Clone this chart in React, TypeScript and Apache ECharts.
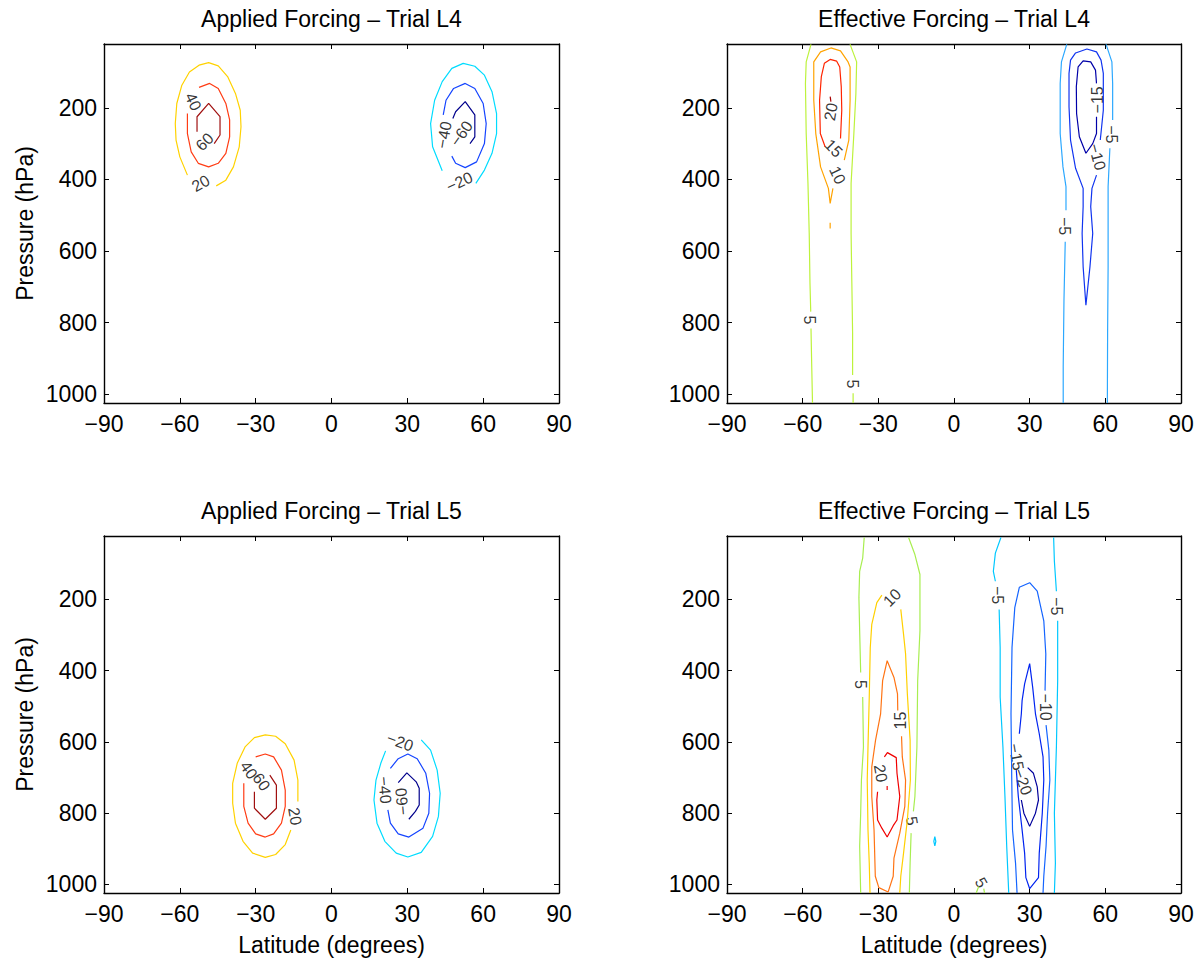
import React, { useEffect, useRef } from "react";
import * as echarts from "echarts";

type Pt = [number, number];
type Lab = [number, number, string, number];

// ---------- tick labels ----------
const latTicks = [-90, -60, -30, 0, 30, 60, 90];
const pTicks = [200, 400, 600, 800, 1000];
const pMin = 22;
const pMax = 1024;

const titles = [
  "Applied Forcing – Trial L4",
  "Effective Forcing – Trial L4",
  "Applied Forcing – Trial L5",
  "Effective Forcing – Trial L5",
];

// ---------- Panel 1: Applied Forcing L4 (lat, hPa) ----------
const tlP20: Pt[] = [[-57.0,388],[-60.0,337],[-61.5,290],[-61.8,244],[-61.2,188],[-59.2,137],[-56.2,100],[-52.4,81],[-48.6,74],[-44.8,83],[-41.1,113],[-38.0,160],[-36.1,207],[-35.8,253],[-36.5,309],[-38.8,365],[-41.8,402],[-45.6,418]];
const tlP40: Pt[] = [[-52.4,143],[-48.2,132],[-44.8,146],[-41.8,188],[-40.3,234],[-40.3,281],[-41.8,327],[-44.8,355],[-48.6,365],[-52.7,355],[-55.5,323],[-57.0,272],[-57.0,216]];
const tlP60: Pt[] = [[-53.2,267],[-53.2,225],[-48.6,188],[-44.1,225],[-44.1,276],[-46.4,300]];
const tlN20: Pt[] = [[43.8,376],[40.0,309],[39.2,244],[40.8,179],[43.8,127],[47.6,90],[52.1,76],[56.7,84],[60.5,109],[63.5,155],[65.3,216],[65.3,272],[63.5,327],[60.5,374],[57.1,411]];
const tlN40: Pt[] = [[44.2,220],[45.3,179],[48.3,146],[52.9,132],[56.7,146],[60.0,188],[61.2,244],[60.5,300],[57.4,351],[52.9,367],[49.1,355],[47.6,335]];
const tlN60: Pt[] = [[48.0,230],[49.1,211],[52.9,183],[56.7,220],[56.7,281],[54.8,300]];
const tlLabels: Lab[] = [[-54.7,183,"40",-65],[-50.2,295,"60",45],[-51.7,411,"20",30],[44.5,276,"−40",80],[51.4,272,"−60",55],[50.6,407,"−20",25]];

// ---------- Panel 2: Effective Forcing L4 ----------
const trP5a: Pt[] = [[-56.7,23],[-58.6,72],[-58.9,132],[-58.6,272],[-57.9,411],[-57.4,551],[-57.1,690],[-56.8,769]];
const trP5b: Pt[] = [[-56.7,816],[-56.4,923],[-56.1,1024]];
const trP5c: Pt[] = [[-41.2,23],[-38.6,72],[-38.9,160],[-39.7,272],[-40.8,411],[-40.8,551],[-40.5,690],[-40.2,830],[-40.2,946]];
const trP5d: Pt[] = [[-40.0,997],[-40.0,1024]];
const trP10: Pt[] = [[-43.5,346],[-41.7,290],[-41.2,179],[-41.2,86],[-42.0,72],[-45.0,41],[-48.8,33],[-52.9,44],[-55.6,72],[-55.6,179],[-54.8,272],[-52.9,365],[-49.8,425],[-49.1,467],[-48.0,425]];
const trP10b: Pt[] = [[-49.1,521],[-49.1,537]];
const trP15: Pt[] = [[-51.1,309],[-53.0,272],[-53.3,179],[-52.6,113],[-51.4,76],[-49.1,65],[-46.5,70],[-45.3,86],[-44.7,141],[-44.5,207],[-45.0,286]];
const trP20: Pt[] = [[-49.1,169],[-48.8,183]];
const trN5a: Pt[] = [[44.7,23],[42.6,72],[42.1,132],[42.1,272],[43.2,365],[44.4,420],[44.4,486]];
const trN5b: Pt[] = [[44.1,574],[43.6,737],[43.3,923],[43.3,1024]];
const trN5c: Pt[] = [[60.3,23],[62.6,72],[62.9,132],[62.9,234]];
const trN5d: Pt[] = [[61.8,313],[61.1,420],[61.1,644],[60.9,830],[60.8,1024]];
const trN10: Pt[] = [[56.5,388],[54.7,425],[54.2,476],[55.0,551],[53.9,644],[52.3,751],[51.2,644],[50.8,551],[51.2,476],[51.2,425],[48.2,369],[46.2,290],[45.6,197],[45.6,104],[46.2,67],[48.2,47],[52.7,36],[56.5,44],[58.3,67],[59.2,104],[59.2,207],[58.0,290]];
const trN15: Pt[] = [[56.5,132],[56.1,95],[54.2,72],[51.2,69],[49.2,86],[48.5,141],[48.6,216],[49.7,281],[52.3,327],[55.0,300],[56.5,272],[56.5,225]];
const trLabels: Lab[] = [[-48.8,211,"20",80],[-47.7,313,"15",-45],[-46.2,388,"10",-65],[-57.4,792,"5",-90],[-40.3,971,"5",-90],[56.8,178,"−15",90],[62.6,274,"−5",-90],[56.8,337,"−10",-75],[43.8,530,"−5",-90]];

// ---------- Panel 3: Applied Forcing L5 ----------
const blP20: Pt[] = [[-13.3,767],[-13.3,707],[-14.8,651],[-18.3,605],[-22.1,584],[-26.2,580],[-30.5,588],[-34.2,614],[-37.3,660],[-39.1,716],[-39.1,772],[-38.0,828],[-35.0,879],[-31.2,912],[-26.2,924],[-22.1,916],[-18.3,888],[-16.1,847]];
const blP40: Pt[] = [[-30.0,642],[-26.2,634],[-22.9,642],[-19.8,679],[-18.3,735],[-18.3,781],[-19.8,828],[-22.9,858],[-26.2,867],[-30.0,858],[-33.0,828],[-34.7,781],[-34.7,716]];
const blP60: Pt[] = [[-24.4,693],[-21.8,721],[-21.8,786],[-26.2,817],[-30.5,786],[-30.5,740]];
const blN20: Pt[] = [[35.5,594],[39.2,623],[41.8,679],[43.0,744],[42.3,809],[40.0,865],[35.5,910],[30.2,923],[25.6,912],[21.1,879],[18.0,828],[16.8,763],[17.6,707],[19.5,660],[21.4,625]];
const blN40: Pt[] = [[23.3,674],[26.4,647],[30.2,634],[33.9,647],[37.3,688],[38.8,744],[38.5,800],[36.2,842],[30.6,867],[26.4,858],[23.3,828],[22.3,791]];
const blN60: Pt[] = [[26.4,714],[29.8,687],[33.5,712],[34.7,730],[34.7,777],[33.2,795],[30.6,817]];
const blLabels: Lab[] = [[-32.7,679,"40",-55],[-27.7,712,"60",-55],[-14.5,809,"20",-80],[27.1,600,"−20",-20],[21.1,735,"−40",-85],[27.9,767,"−60",95]];

// ---------- Panel 4: Effective Forcing L5 ----------
const brP5a: Pt[] = [[-35.6,26],[-36.2,84],[-37.4,121],[-37.7,195],[-37.4,288],[-37.0,405]];
const brP5b: Pt[] = [[-36.2,474],[-35.9,614],[-36.7,707],[-37.0,800],[-37.4,893],[-37.0,1024]];
const brP5c: Pt[] = [[-18.0,26],[-15.5,74],[-13.5,130],[-13.5,288],[-14.4,428],[-14.7,614],[-15.5,753],[-16.1,795]];
const brP5d: Pt[] = [[-17.0,856],[-17.4,940],[-17.7,1024]];
const brP5e: Pt[] = [[8.8,1024],[9.8,1006]];
const brP5f: Pt[] = [[11.8,1012],[12.1,1024]];
const brP10a: Pt[] = [[-21.1,228],[-20.0,298],[-19.2,353],[-18.5,465],[-17.4,595],[-17.3,707],[-18.5,819],[-20.0,912],[-21.1,977],[-21.5,1024]];
const brP10b: Pt[] = [[-28.6,188],[-30.6,209],[-32.6,270],[-33.2,335],[-33.6,474],[-34.1,614],[-34.4,707],[-34.1,847],[-33.6,940],[-33.3,1024]];
const brP15: Pt[] = [[-22.3,512],[-22.4,465],[-23.8,419],[-26.5,372],[-28.3,428],[-29.1,521],[-31.1,595],[-32.6,670],[-32.6,753],[-31.7,847],[-31.2,977],[-29.8,1009],[-26.1,1021],[-24.1,977],[-23.8,926],[-21.5,856],[-19.5,781],[-19.2,707],[-20.5,642],[-20.8,584]];
const brP20: Pt[] = [[-27.6,642],[-26.4,630],[-22.9,644],[-22.6,688],[-21.5,753],[-22.6,819],[-24.1,835],[-26.5,867],[-28.6,842],[-30.3,819],[-30.6,763],[-30.3,740]];
const brP20b: Pt[] = [[-26.5,724],[-26.5,735]];
const brN5a: Pt[] = [[18.6,26],[16.4,70],[15.6,121],[16.4,149]];
const brN5b: Pt[] = [[17.9,228],[18.3,335],[18.3,474],[19.4,614],[20.2,753],[20.9,893],[21.7,1024]];
const brN5c: Pt[] = [[39.5,26],[39.8,93],[40.6,177]];
const brN5d: Pt[] = [[41.1,260],[41.1,428],[40.6,614],[39.8,800],[40.2,940],[39.8,1024]];
const brN5e: Pt[] = [[-7.6,866],[-7.2,879],[-7.6,892],[-8.0,879],[-7.6,866]];
const brN10a: Pt[] = [[36.5,553],[37.6,623],[38.0,707],[37.1,800],[36.5,893],[35.6,977],[35.3,1024]];
const brN10b: Pt[] = [[25.0,1024],[24.4,940],[23.2,847],[22.9,707],[22.6,521],[23.0,335],[24.1,223],[25.9,166],[30.0,153],[33.0,177],[35.6,260],[36.4,353],[36.1,456]];
const brN15: Pt[] = [[24.7,679],[25.5,753],[27.0,847],[28.0,912],[28.5,981],[30.0,1012],[33.5,981],[33.8,912],[35.0,800],[35.6,707],[35.3,642],[33.8,577],[32.3,521],[31.2,447],[30.0,380],[28.0,437],[27.0,484],[26.7,521],[25.9,577]];
const brN20: Pt[] = [[26.7,763],[27.7,800],[30.0,837],[32.3,800],[33.5,763],[33.0,726],[31.5,688],[29.2,672]];
const brLabels: Lab[] = [[-24.5,195,"10",45],[-37.0,439,"5",-90],[-21.1,540,"15",90],[-16.7,822,"5",-80],[-29.1,688,"20",-80],[17.4,188,"−5",-90],[40.6,219,"−5",-90],[36.1,502,"−10",-90],[24.7,642,"−15",-80],[27.3,712,"−20",-70],[10.8,995,"5",-60]];

// ---------- colours per contour level (styling) ----------
const appliedColors: Record<number, string> = { 20: "#FFD200", 40: "#FF3C14", 60: "#A01010", [-20]: "#00DCFF", [-40]: "#1444FF", [-60]: "#00008C" };
const effL4Colors: Record<number, string> = { 5: "#BDF23C", 10: "#FFA300", 15: "#FF2400", 20: "#A80000", [-5]: "#2CA8FF", [-10]: "#1034F0", [-15]: "#0000A8" };
const effL5Colors: Record<number, string> = { 5: "#A8EE50", 10: "#FFD000", 15: "#FF7414", 20: "#F00000", [-5]: "#00C8FF", [-10]: "#1464FF", [-15]: "#0024F0", [-20]: "#00009C" };

const segments: { panel: number; level: number; pts: Pt[] }[] = [
  { panel: 0, level: 20, pts: tlP20 }, { panel: 0, level: 40, pts: tlP40 }, { panel: 0, level: 60, pts: tlP60 },
  { panel: 0, level: -20, pts: tlN20 }, { panel: 0, level: -40, pts: tlN40 }, { panel: 0, level: -60, pts: tlN60 },
  { panel: 1, level: 5, pts: trP5a }, { panel: 1, level: 5, pts: trP5b }, { panel: 1, level: 5, pts: trP5c }, { panel: 1, level: 5, pts: trP5d },
  { panel: 1, level: 10, pts: trP10 }, { panel: 1, level: 10, pts: trP10b }, { panel: 1, level: 15, pts: trP15 }, { panel: 1, level: 20, pts: trP20 },
  { panel: 1, level: -5, pts: trN5a }, { panel: 1, level: -5, pts: trN5b }, { panel: 1, level: -5, pts: trN5c }, { panel: 1, level: -5, pts: trN5d },
  { panel: 1, level: -10, pts: trN10 }, { panel: 1, level: -15, pts: trN15 },
  { panel: 2, level: 20, pts: blP20 }, { panel: 2, level: 40, pts: blP40 }, { panel: 2, level: 60, pts: blP60 },
  { panel: 2, level: -20, pts: blN20 }, { panel: 2, level: -40, pts: blN40 }, { panel: 2, level: -60, pts: blN60 },
  { panel: 3, level: 5, pts: brP5a }, { panel: 3, level: 5, pts: brP5b }, { panel: 3, level: 5, pts: brP5c }, { panel: 3, level: 5, pts: brP5d },
  { panel: 3, level: 5, pts: brP5e }, { panel: 3, level: 5, pts: brP5f },
  { panel: 3, level: 10, pts: brP10a }, { panel: 3, level: 10, pts: brP10b }, { panel: 3, level: 15, pts: brP15 },
  { panel: 3, level: 20, pts: brP20 }, { panel: 3, level: 20, pts: brP20b },
  { panel: 3, level: -5, pts: brN5a }, { panel: 3, level: -5, pts: brN5b }, { panel: 3, level: -5, pts: brN5c }, { panel: 3, level: -5, pts: brN5d },
  { panel: 3, level: -5, pts: brN5e }, { panel: 3, level: -10, pts: brN10a }, { panel: 3, level: -10, pts: brN10b },
  { panel: 3, level: -15, pts: brN15 }, { panel: 3, level: -20, pts: brN20 },
];
const panelColors = [appliedColors, effL4Colors, appliedColors, effL5Colors];
const panelLabels = [tlLabels, trLabels, blLabels, brLabels];

const FONT = "'Liberation Sans', Arial, Helvetica, sans-serif";
const grids = [
  { left: 104, top: 44, width: 455, height: 359 },
  { left: 727, top: 44, width: 454, height: 359 },
  { left: 104, top: 536, width: 455, height: 357 },
  { left: 727, top: 536, width: 454, height: 357 },
];

const fmt = (v: number) => (v < 0 ? "\u2212" + Math.abs(v) : String(v));

export default function App() {
  const ref = useRef<HTMLDivElement>(null);
  useEffect(() => {
    if (!ref.current) return;
    const chart = echarts.init(ref.current, undefined, { renderer: "svg" });
    const axisLine = { show: true, onZero: false, lineStyle: { color: "#000", width: 1.4 } };
    const tick = { show: true, inside: true, length: 5, lineStyle: { color: "#000", width: 1 } };
    const xAxis: any[] = [];
    const yAxis: any[] = [];
    grids.forEach((_, i) => {
      xAxis.push({
        type: "value", gridIndex: i, min: -90, max: 90, interval: 30, position: "bottom",
        axisLine, axisTick: tick, splitLine: { show: false },
        axisLabel: { show: true, margin: 9, color: "#000", fontSize: 23, fontFamily: FONT, formatter: fmt, customValues: latTicks },
      });
      xAxis.push({
        type: "value", gridIndex: i, min: -90, max: 90, interval: 30, position: "top",
        axisLine, axisTick: tick, splitLine: { show: false }, axisLabel: { show: false },
      });
      yAxis.push({
        type: "value", gridIndex: i, min: pMin, max: pMax, inverse: true, position: "left",
        axisLine, axisTick: { ...tick, customValues: pTicks }, splitLine: { show: false },
        axisLabel: { show: true, margin: 7, color: "#000", fontSize: 23, fontFamily: FONT, formatter: fmt, customValues: pTicks },
      });
      yAxis.push({
        type: "value", gridIndex: i, min: pMin, max: pMax, inverse: true, position: "right",
        axisLine, axisTick: { ...tick, customValues: pTicks }, splitLine: { show: false }, axisLabel: { show: false },
      });
    });

    const series: any[] = segments.map((s) => ({
      type: "line", xAxisIndex: s.panel * 2, yAxisIndex: s.panel * 2, data: s.pts,
      showSymbol: false, symbol: "none", silent: true, clip: true,
      lineStyle: { color: panelColors[s.panel][s.level], width: 1.2 },
    }));
    panelLabels.forEach((labs, i) => {
      series.push({
        type: "scatter", xAxisIndex: i * 2, yAxisIndex: i * 2, silent: true, symbolSize: 1,
        itemStyle: { color: "rgba(0,0,0,0)" },
        label: { show: true, position: "inside", color: "#000", fontSize: 16, fontFamily: FONT },
        data: labs.map(([x, y, t, r]) => ({ value: [x, y], label: { formatter: t, rotate: r } })),
      });
    });

    const graphic: any[] = [];
    grids.forEach((g, i) => {
      const cx = g.left + g.width / 2;
      graphic.push({ type: "text", x: cx, y: g.top - 25, style: { text: titles[i], font: `23px ${FONT}`, fill: "#000", textAlign: "center", textVerticalAlign: "middle" } });
      if (i % 2 === 0) {
        graphic.push({ type: "text", x: 25, y: g.top + g.height / 2, rotation: Math.PI / 2, style: { text: "Pressure (hPa)", font: `23px ${FONT}`, fill: "#000", textAlign: "center", textVerticalAlign: "middle" } });
      }
      if (i >= 2) {
        graphic.push({ type: "text", x: cx, y: 945, style: { text: "Latitude (degrees)", font: `23px ${FONT}`, fill: "#000", textAlign: "center", textVerticalAlign: "middle" } });
      }
    });

    chart.setOption({
      animation: false,
      backgroundColor: "#fff",
      grid: grids.map((g) => ({ ...g, containLabel: false })),
      xAxis, yAxis, series, graphic,
    });
    return () => chart.dispose();
  }, []);
  return <div ref={ref} style={{ position: "absolute", left: 0, top: 0, width: 1199, height: 961 }} />;
}
